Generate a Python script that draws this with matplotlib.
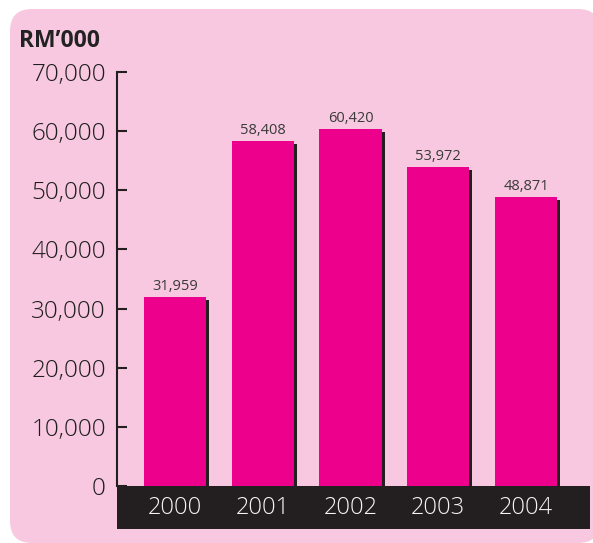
import matplotlib
matplotlib.use("Agg")
import matplotlib.pyplot as plt
import matplotlib.patheffects as pe
from matplotlib.patches import FancyBboxPatch, Rectangle

plt.rcParams['font.family'] = ['Open Sans', 'DejaVu Sans']

# data
years = ['2000', '2001', '2002', '2003', '2004']
values = [31959, 58408, 60420, 53972, 48871]
yticks = [0, 10000, 20000, 30000, 40000, 50000, 60000, 70000]

pink_bg = '#F7C8DF'
magenta = '#EC008C'
dark = '#231F20'

fig = plt.figure(figsize=(5.93, 5.43), dpi=100)
fig.patch.set_facecolor('white')

# rounded pink panel (in inches)
panel = FancyBboxPatch((0.10, 0.0), 5.90, 5.34,
                       boxstyle='round,pad=0,rounding_size=0.22',
                       transform=fig.dpi_scale_trans,
                       facecolor=pink_bg, edgecolor='none', zorder=0)
fig.add_artist(panel)

ax = fig.add_axes([117/593, 57/543, 473/593, 414/543])
ax.set_facecolor('none')

x = list(range(len(years)))
bars = ax.bar(x, values, width=0.707, color=magenta, zorder=3)
for b in bars:
    b.set_path_effects([pe.SimplePatchShadow(offset=(2.2, -2.2), shadow_rgbFace=dark, alpha=1),
                        pe.Normal()])

for xi, v in zip(x, values):
    ax.annotate(f'{v:,}', (xi, v), xytext=(0, 2), textcoords='offset points',
                ha='center', va='bottom', fontsize=10.5, color='#3a3a3a')

ax.set_xlim(-0.661, 4.729)
ax.set_ylim(0, 70000)
ax.set_yticks(yticks)
ax.set_yticklabels([f'{t:,}' for t in yticks], fontweight='light')
ax.tick_params(axis='y', direction='in', length=7.5, width=1.5, color=dark,
               labelsize=17.5, labelcolor='#1e1e1e', pad=8)

ax.set_xticks(x)
ax.set_xticklabels(years, fontweight='light')
ax.tick_params(axis='x', length=0, pad=15.8, labelsize=17, labelcolor='#F5F5F5')
for lbl in ax.get_xticklabels():
    lbl.set_verticalalignment('center')

for s in ['top', 'right', 'bottom']:
    ax.spines[s].set_visible(False)
ax.spines['left'].set_color(dark)
ax.spines['left'].set_linewidth(1.5)

# black band under the bars
band = Rectangle((0, -43/414), 1, 43/414, transform=ax.transAxes,
                 facecolor=dark, edgecolor='none', clip_on=False, zorder=1)
ax.add_patch(band)

fig.text(19/593, 1 - 47/543, 'RM\u2019000', fontsize=16.5, fontweight='bold',
         color='#222222', va='baseline', ha='left')

fig.savefig('out.png', dpi=100)
